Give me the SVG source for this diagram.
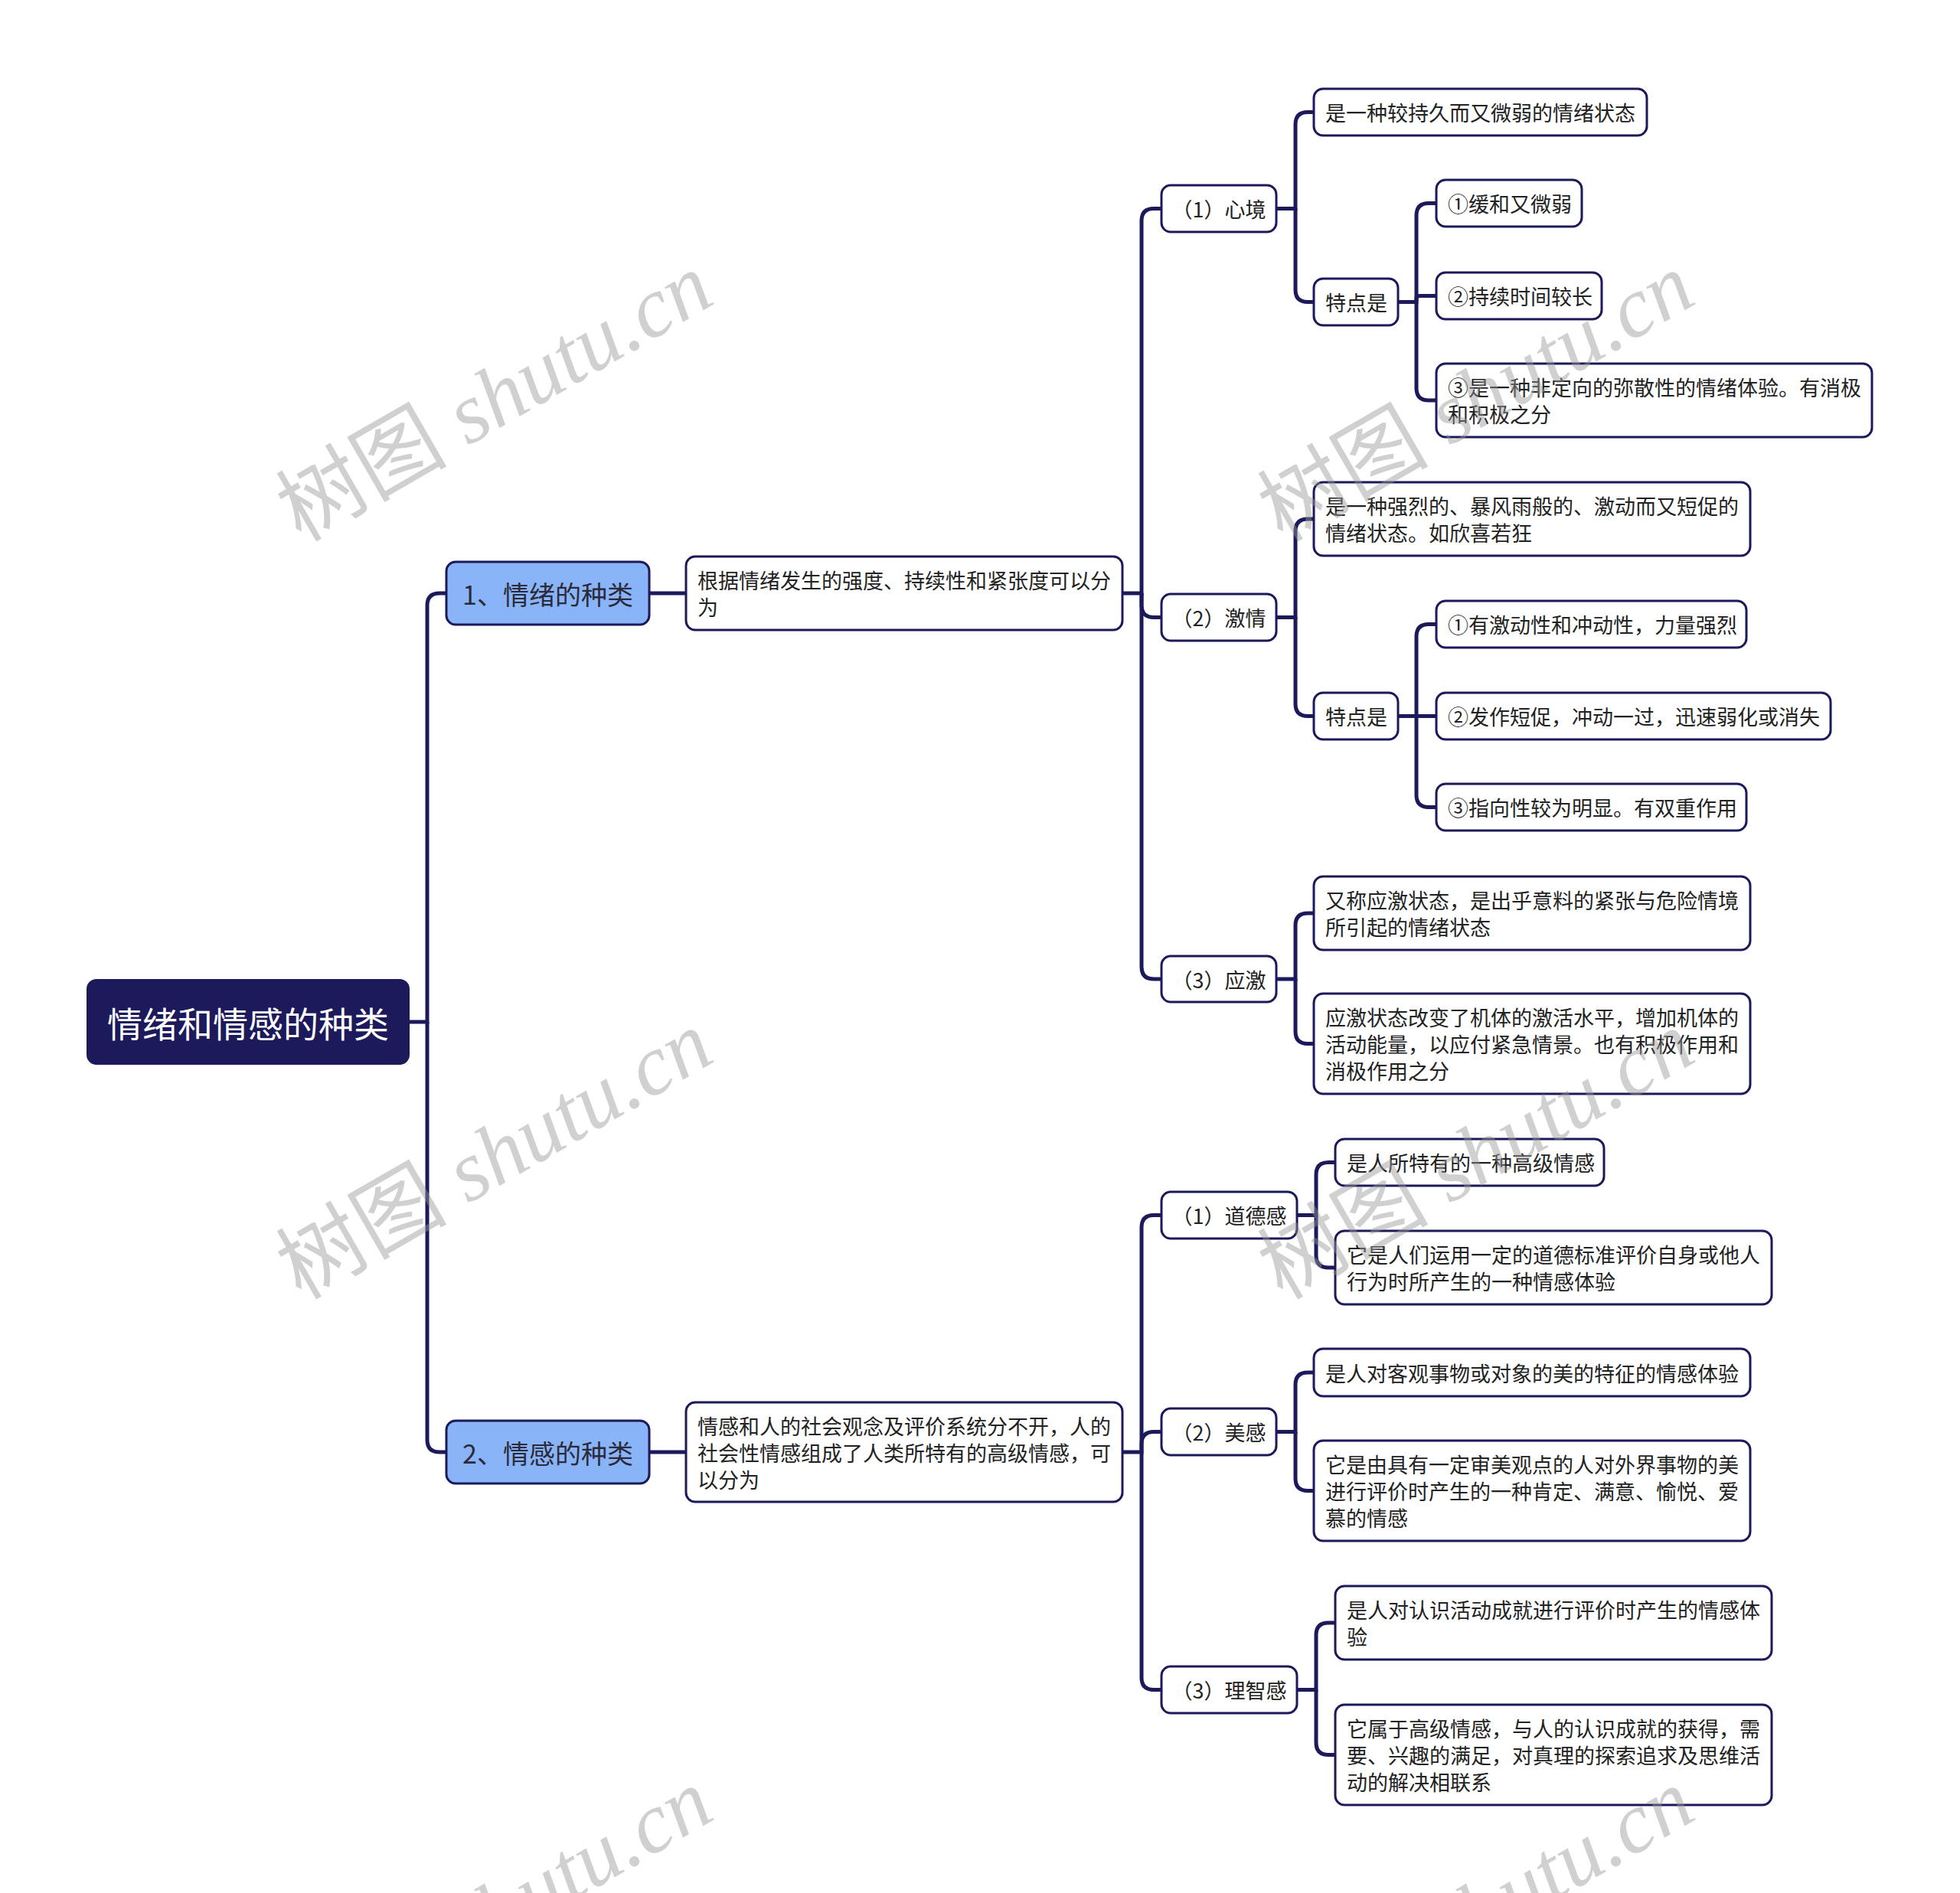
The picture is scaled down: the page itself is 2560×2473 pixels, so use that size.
<svg xmlns="http://www.w3.org/2000/svg" width="2560" height="2473" viewBox="0 0 2560 2473">
<style>
.box{fill:#ffffff;stroke:#1c1a5a;stroke-width:3}
.l1{fill:#8ab4f8;stroke:#1c1a5a;stroke-width:3}
.root{fill:#1c1a5a;stroke:#1c1a5a;stroke-width:2}
.t{font-family:"Noto Sans CJK SC","Noto Sans",sans-serif;font-size:27px;fill:#222222;dominant-baseline:central}
.m{text-anchor:middle}
.tl1{font-family:"Noto Sans CJK SC","Noto Sans",sans-serif;font-size:34px;fill:#2a2a3a;dominant-baseline:central;text-anchor:middle}
.troot{font-family:"Noto Sans CJK SC","Noto Sans",sans-serif;font-size:46px;fill:#ffffff;dominant-baseline:central;text-anchor:middle}
.c{fill:none;stroke:#1c1a5a;stroke-width:5}
.wm{font-size:112px;fill:#999999;opacity:0.45;text-anchor:middle}
.wmc{font-family:"Noto Sans CJK SC",sans-serif}
.wml{font-family:"Liberation Serif",serif;font-style:italic}
</style>
<rect width="2560" height="2473" fill="#ffffff"/>
<g id="connectors">
<path class="c" d="M534 1335 H558 V791 Q558 775 574 775 H583"/>
<path class="c" d="M558 1335 V1881 Q558 1897 574 1897 H583"/>
<path class="c" d="M848 775 H896"/>
<path class="c" d="M848 1897 H896"/>
<path class="c" d="M1466 775 H1491 V288.5 Q1491 272.5 1507 272.5 H1517"/>
<path class="c" d="M1491 775 V790.5 Q1491 806.5 1507 806.5 H1517"/>
<path class="c" d="M1491 775 V1263 Q1491 1279 1507 1279 H1517"/>
<path class="c" d="M1466 1897 H1491 V1603.5 Q1491 1587.5 1507 1587.5 H1517"/>
<path class="c" d="M1491 1897 V1886.5 Q1491 1870.5 1507 1870.5 H1517"/>
<path class="c" d="M1491 1897 V2191.5 Q1491 2207.5 1507 2207.5 H1517"/>
<path class="c" d="M1667 272.5 H1692 V162.5 Q1692 146.5 1708 146.5 H1716"/>
<path class="c" d="M1692 272.5 V378.5 Q1692 394.5 1708 394.5 H1716"/>
<path class="c" d="M1826 394.5 H1850 V281.5 Q1850 265.5 1866 265.5 H1876"/>
<path class="c" d="M1850 394.5 V390.5 Q1850 386.5 1854 386.5 H1876"/>
<path class="c" d="M1850 394.5 V507 Q1850 523 1866 523 H1876"/>
<path class="c" d="M1667 806.5 H1692 V694 Q1692 678 1708 678 H1716"/>
<path class="c" d="M1692 806.5 V919.5 Q1692 935.5 1708 935.5 H1716"/>
<path class="c" d="M1826 935.5 H1876"/>
<path class="c" d="M1850 935.5 V831.5 Q1850 815.5 1866 815.5 H1876"/>
<path class="c" d="M1850 935.5 V1038.5 Q1850 1054.5 1866 1054.5 H1876"/>
<path class="c" d="M1667 1279 H1692 V1209 Q1692 1193 1708 1193 H1716"/>
<path class="c" d="M1692 1279 V1347.5 Q1692 1363.5 1708 1363.5 H1716"/>
<path class="c" d="M1694 1587.5 H1719 V1534.5 Q1719 1518.5 1735 1518.5 H1744"/>
<path class="c" d="M1719 1587.5 V1640 Q1719 1656 1735 1656 H1744"/>
<path class="c" d="M1667 1870.5 H1692 V1809 Q1692 1793 1708 1793 H1716"/>
<path class="c" d="M1692 1870.5 V1931.5 Q1692 1947.5 1708 1947.5 H1716"/>
<path class="c" d="M1694 2207.5 H1719 V2136 Q1719 2120 1735 2120 H1744"/>
<path class="c" d="M1719 2207.5 V2276.5 Q1719 2292.5 1735 2292.5 H1744"/>
</g>
<g id="n0"><rect class="root" x="114" y="1280" width="420" height="110" rx="12"/><text class="troot" x="324" y="1335">情绪和情感的种类</text></g>
<g id="n1"><rect class="l1" x="583" y="734" width="265" height="82" rx="12"/><text class="tl1" x="715.5" y="775">1、情绪的种类</text></g>
<g id="n2"><rect class="l1" x="583" y="1856" width="265" height="82" rx="12"/><text class="tl1" x="715.5" y="1897">2、情感的种类</text></g>
<g id="n3"><rect class="box" x="896" y="727" width="570" height="96" rx="12"/><text class="t" x="911" y="757.5">根据情绪发生的强度、持续性和紧张度可以分</text><text class="t" x="911" y="792.5">为</text></g>
<g id="n4"><rect class="box" x="896" y="1832" width="570" height="130" rx="12"/><text class="t" x="911" y="1862">情感和人的社会观念及评价系统分不开，人的</text><text class="t" x="911" y="1897">社会性情感组成了人类所特有的高级情感，可</text><text class="t" x="911" y="1932">以分为</text></g>
<g id="n5"><rect class="box" x="1517" y="242" width="150" height="61" rx="12"/><text class="t m" x="1592" y="272.5">（1）心境</text></g>
<g id="n6"><rect class="box" x="1517" y="776" width="150" height="61" rx="12"/><text class="t m" x="1592" y="806.5">（2）激情</text></g>
<g id="n7"><rect class="box" x="1517" y="1249" width="150" height="60" rx="12"/><text class="t m" x="1592" y="1279">（3）应激</text></g>
<g id="n8"><rect class="box" x="1517" y="1557" width="177" height="61" rx="12"/><text class="t m" x="1605.5" y="1587.5">（1）道德感</text></g>
<g id="n9"><rect class="box" x="1517" y="1840" width="150" height="61" rx="12"/><text class="t m" x="1592" y="1870.5">（2）美感</text></g>
<g id="n10"><rect class="box" x="1517" y="2177" width="177" height="61" rx="12"/><text class="t m" x="1605.5" y="2207.5">（3）理智感</text></g>
<g id="n11"><rect class="box" x="1716" y="116" width="435" height="61" rx="12"/><text class="t" x="1731" y="146.5">是一种较持久而又微弱的情绪状态</text></g>
<g id="n12"><rect class="box" x="1716" y="364" width="110" height="61" rx="12"/><text class="t" x="1731" y="394.5">特点是</text></g>
<g id="n13"><rect class="box" x="1876" y="235" width="190" height="61" rx="12"/><text class="t" x="1891" y="265.5">①缓和又微弱</text></g>
<g id="n14"><rect class="box" x="1876" y="356" width="216" height="61" rx="12"/><text class="t" x="1891" y="386.5">②持续时间较长</text></g>
<g id="n15"><rect class="box" x="1876" y="475" width="569" height="96" rx="12"/><text class="t" x="1891" y="505.5">③是一种非定向的弥散性的情绪体验。有消极</text><text class="t" x="1891" y="540.5">和积极之分</text></g>
<g id="n16"><rect class="box" x="1716" y="630" width="570" height="96" rx="12"/><text class="t" x="1731" y="660.5">是一种强烈的、暴风雨般的、激动而又短促的</text><text class="t" x="1731" y="695.5">情绪状态。如欣喜若狂</text></g>
<g id="n17"><rect class="box" x="1716" y="905" width="110" height="61" rx="12"/><text class="t" x="1731" y="935.5">特点是</text></g>
<g id="n18"><rect class="box" x="1876" y="785" width="405" height="61" rx="12"/><text class="t" x="1891" y="815.5">①有激动性和冲动性，力量强烈</text></g>
<g id="n19"><rect class="box" x="1876" y="905" width="515" height="61" rx="12"/><text class="t" x="1891" y="935.5">②发作短促，冲动一过，迅速弱化或消失</text></g>
<g id="n20"><rect class="box" x="1876" y="1024" width="405" height="61" rx="12"/><text class="t" x="1891" y="1054.5">③指向性较为明显。有双重作用</text></g>
<g id="n21"><rect class="box" x="1716" y="1145" width="570" height="96" rx="12"/><text class="t" x="1731" y="1175.5">又称应激状态，是出乎意料的紧张与危险情境</text><text class="t" x="1731" y="1210.5">所引起的情绪状态</text></g>
<g id="n22"><rect class="box" x="1716" y="1298" width="570" height="131" rx="12"/><text class="t" x="1731" y="1328.5">应激状态改变了机体的激活水平，增加机体的</text><text class="t" x="1731" y="1363.5">活动能量，以应付紧急情景。也有积极作用和</text><text class="t" x="1731" y="1398.5">消极作用之分</text></g>
<g id="n23"><rect class="box" x="1744" y="1488" width="351" height="61" rx="12"/><text class="t" x="1759" y="1518.5">是人所特有的一种高级情感</text></g>
<g id="n24"><rect class="box" x="1744" y="1608" width="570" height="96" rx="12"/><text class="t" x="1759" y="1638.5">它是人们运用一定的道德标准评价自身或他人</text><text class="t" x="1759" y="1673.5">行为时所产生的一种情感体验</text></g>
<g id="n25"><rect class="box" x="1716" y="1762" width="570" height="62" rx="12"/><text class="t" x="1731" y="1793">是人对客观事物或对象的美的特征的情感体验</text></g>
<g id="n26"><rect class="box" x="1716" y="1882" width="570" height="131" rx="12"/><text class="t" x="1731" y="1912.5">它是由具有一定审美观点的人对外界事物的美</text><text class="t" x="1731" y="1947.5">进行评价时产生的一种肯定、满意、愉悦、爱</text><text class="t" x="1731" y="1982.5">慕的情感</text></g>
<g id="n27"><rect class="box" x="1744" y="2072" width="570" height="96" rx="12"/><text class="t" x="1759" y="2102.5">是人对认识活动成就进行评价时产生的情感体</text><text class="t" x="1759" y="2137.5">验</text></g>
<g id="n28"><rect class="box" x="1744" y="2227" width="570" height="131" rx="12"/><text class="t" x="1759" y="2257.5">它属于高级情感，与人的认识成就的获得，需</text><text class="t" x="1759" y="2292.5">要、兴趣的满足，对真理的探索追求及思维活</text><text class="t" x="1759" y="2327.5">动的解决相联系</text></g>
<g id="watermarks">
<text class="wm" x="646" y="557" transform="rotate(-30 646 519)"><tspan class="wmc">树图</tspan><tspan class="wml"> shutu.cn</tspan></text>
<text class="wm" x="1928" y="557" transform="rotate(-30 1928 519)"><tspan class="wmc">树图</tspan><tspan class="wml"> shutu.cn</tspan></text>
<text class="wm" x="646" y="1547" transform="rotate(-30 646 1509)"><tspan class="wmc">树图</tspan><tspan class="wml"> shutu.cn</tspan></text>
<text class="wm" x="1928" y="1547" transform="rotate(-30 1928 1509)"><tspan class="wmc">树图</tspan><tspan class="wml"> shutu.cn</tspan></text>
<text class="wm" x="646" y="2537" transform="rotate(-30 646 2499)"><tspan class="wmc">树图</tspan><tspan class="wml"> shutu.cn</tspan></text>
<text class="wm" x="1928" y="2537" transform="rotate(-30 1928 2499)"><tspan class="wmc">树图</tspan><tspan class="wml"> shutu.cn</tspan></text>
</g>
</svg>
